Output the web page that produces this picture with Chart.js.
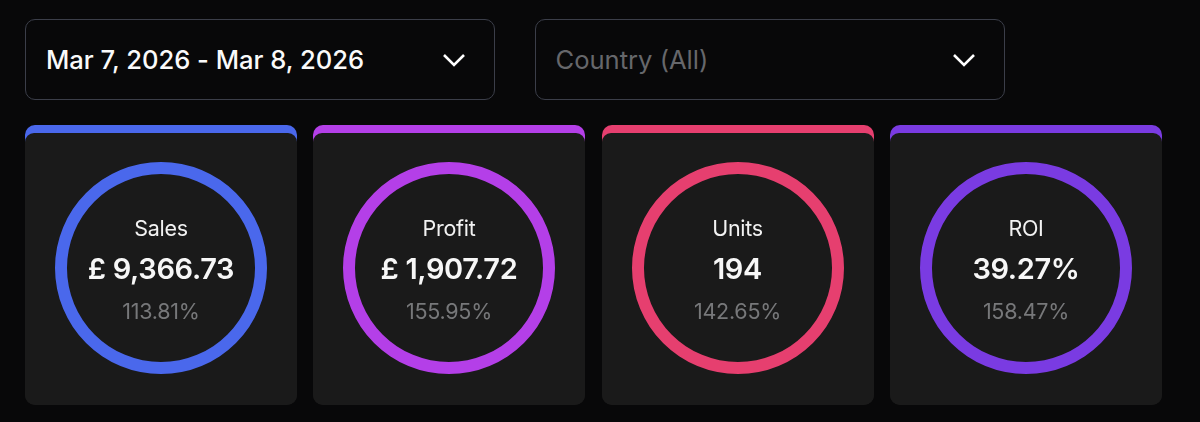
<!DOCTYPE html>
<html><head><meta charset="utf-8">
<script src="https://cdn.jsdelivr.net/npm/chart.js@4"></script>
<style>
html,body{margin:0;padding:0;background:#080809;width:1200px;height:422px;overflow:hidden;font-family:Inter,sans-serif}
.sel{position:absolute;top:19px;width:468px;height:79px;border:1.5px solid #3b3e49;border-radius:10px;box-sizing:content-box}
.sel span{position:absolute;left:20px;top:25px;font-size:25.6px;line-height:30px;letter-spacing:-.02px;white-space:nowrap}
.sel svg{position:absolute;left:416px;top:33px}
.card{position:absolute;top:125px;width:272px;height:280px;border-radius:10px;overflow:hidden}
.card .body{position:absolute;left:0;right:0;top:8px;bottom:0;background:#1a1a1a;border-radius:9px}
.card canvas{position:absolute;left:16px;top:23px}
.t{position:absolute;left:0;width:272px;text-align:center;white-space:nowrap}
.l{top:90px;font-size:21.5px;line-height:26px;color:#f2f2f2;letter-spacing:-.3px}
.v{top:126px;font-size:29px;line-height:36px;font-weight:600;color:#f7f7f7;letter-spacing:-.35px}
.p{top:173px;font-size:21.5px;line-height:26px;color:#77787a;letter-spacing:-.25px}
</style></head><body>
<div class="sel" style="left:25px"><span id="dateText" style="color:#fafafa;font-weight:500"></span>
<svg width="24" height="14" viewBox="0 0 24 14"><path d="M2 2 L12 12 L22 2" fill="none" stroke="#fff" stroke-width="2.6"/></svg></div>
<div class="sel" style="left:534.5px"><span id="countryText" style="color:#66676b"></span>
<svg width="24" height="14" viewBox="0 0 24 14"><path d="M2 2 L12 12 L22 2" fill="none" stroke="#fff" stroke-width="2.6"/></svg></div>
<div id="cards"></div>
<script>
const dateRange = "Mar 7, 2026 - Mar 8, 2026";
const countryFilter = "Country (All)";
const labels = ["Sales","Profit","Units","ROI"];
const displayValues = ["£ 9,366.73","£ 1,907.72","194","39.27%"];
const percentages = [113.81,155.95,142.65,158.47];
const colors = ["#4a68ec","#b43fe8","#e63f6f","#7a3be2"];
const lefts = [25,313,601.5,890];

document.getElementById('dateText').textContent = dateRange;
document.getElementById('countryText').textContent = countryFilter;
const host = document.getElementById('cards');
labels.forEach((name,i)=>{
  const c = document.createElement('div');
  c.className='card'; c.style.left=lefts[i]+'px';
  c.style.background=`linear-gradient(${colors[i]} 0 20px, #1a1a1a 20px)`;
  c.innerHTML = `<div class="body"></div>
    <canvas width="240" height="240" style="width:240px;height:240px"></canvas>
    <div class="t l"></div><div class="t v"></div><div class="t p"></div>`;
  c.querySelector('.l').textContent=name;
  c.querySelector('.v').textContent=displayValues[i];
  c.querySelector('.p').textContent=percentages[i].toFixed(2)+'%';
  host.appendChild(c);
  new Chart(c.querySelector('canvas'),{
    type:'doughnut',
    data:{labels:[name],datasets:[{data:[percentages[i]],backgroundColor:[colors[i]],borderWidth:0}]},
    options:{responsive:false,animation:false,radius:106,cutout:'88.7%',
      plugins:{legend:{display:false},tooltip:{enabled:false}}}
  });
});
</script></body></html>
